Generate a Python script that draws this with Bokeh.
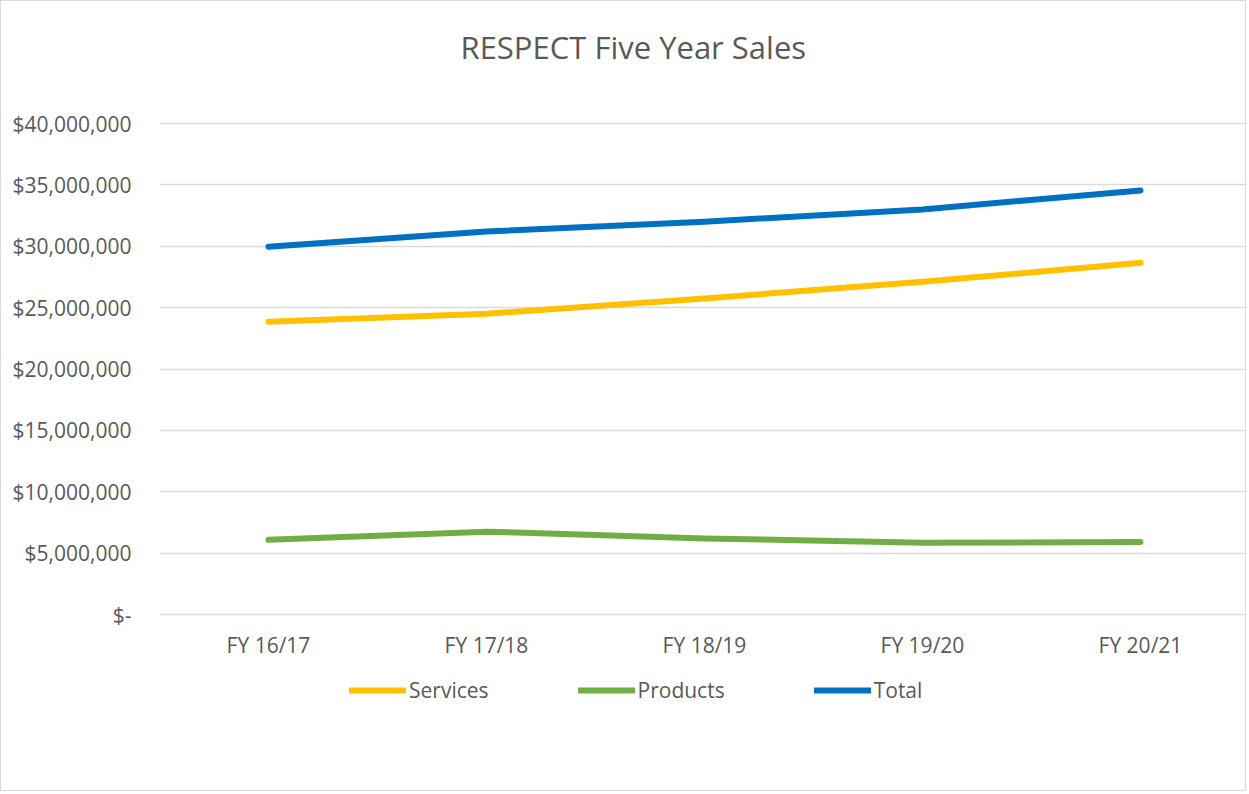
from bokeh.plotting import figure
from bokeh.models import Range1d, FixedTicker, NumeralTickFormatter, Legend, LegendItem
from bokeh.embed import file_html
from bokeh.resources import INLINE

categories = ["FY 16/17", "FY 17/18", "FY 18/19", "FY 19/20", "FY 20/21"]
services = [23850000, 24500000, 25750000, 27100000, 28650000]
products = [6080000, 6750000, 6200000, 5850000, 5900000]
total = [29950000, 31200000, 32000000, 33000000, 34550000]
y_ticks = [0, 5000000, 10000000, 15000000, 20000000, 25000000, 30000000, 35000000, 40000000]
series_names = ["Services", "Products", "Total"]
series_colors = ["#FFC000", "#70AD47", "#0070C0"]

FONT = "Open Sans"
TXT = "#595959"

xs = list(range(len(categories)))

# frame: top at 72px, bottom at 732px; $0 at 614px, $40M at 123px
p = figure(width=1246, height=791, output_backend="svg", toolbar_location=None,
           x_range=Range1d(-0.5, 4.491), y_range=Range1d(-9613000, 44155000),
           min_border_left=158, min_border_right=0, min_border_top=71, min_border_bottom=60,
           title="RESPECT Five Year Sales")
p.styles = {"border": "1px solid #d9d9d9"}
p.outline_line_color = None
p.background_fill_color = "white"
p.border_fill_color = "white"

p.title.text_font = FONT
p.title.text_font_size = "31px"
p.title.text_font_style = "normal"
p.title.text_color = TXT
p.title.align = "left"
p.title.offset = 301
p.title.standoff = 10

# y axis
p.yaxis.ticker = FixedTicker(ticks=y_ticks)
p.yaxis.formatter = NumeralTickFormatter(format="$0,0")
p.yaxis.major_label_overrides = {0: "$-"}
p.yaxis.axis_line_color = None
p.yaxis.major_tick_line_color = None
p.yaxis.minor_tick_line_color = None
p.yaxis.major_label_text_font = FONT
p.yaxis.major_label_text_font_size = "21px"
p.yaxis.major_label_text_color = TXT
p.yaxis.major_label_standoff = 22

# x axis, pinned at $0
p.xaxis.fixed_location = 0
p.xaxis.ticker = FixedTicker(ticks=xs)
p.xaxis.major_label_overrides = {i: c for i, c in zip(xs, categories)}
p.xaxis.axis_line_color = "#d9d9d9"
p.xaxis.major_tick_line_color = None
p.xaxis.minor_tick_line_color = None
p.xaxis.major_label_text_font = FONT
p.xaxis.major_label_text_font_size = "21px"
p.xaxis.major_label_text_color = TXT
p.xaxis.major_label_standoff = 10

p.xgrid.grid_line_color = None
p.ygrid.ticker = FixedTicker(ticks=y_ticks)
p.ygrid.grid_line_color = "#d9d9d9"
p.ygrid.grid_line_width = 1.3

items = []
for name, vals, col in zip(series_names, [services, products, total], series_colors):
    r = p.line(xs, vals, line_color=col, line_width=6, line_cap="round", line_join="round")
    items.append(LegendItem(label=name, renderers=[r]))

legend = Legend(items=items, orientation="horizontal", location=(190, 28),
                padding=0, margin=0, spacing=89, label_standoff=3,
                glyph_width=57, glyph_height=20,
                label_text_font=FONT, label_text_font_size="21px", label_text_color=TXT,
                border_line_color=None, background_fill_alpha=0)
p.add_layout(legend, "center")

open("out.html", "w").write(file_html(p, INLINE))
